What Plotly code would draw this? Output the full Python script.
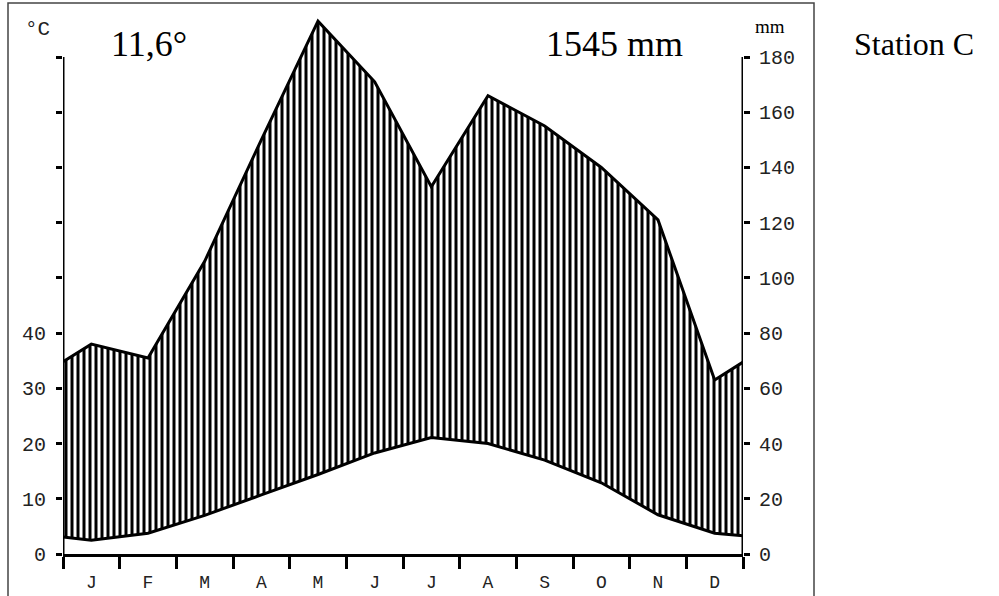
import plotly.graph_objects as go

# ---------------- data ----------------
months = ["J", "F", "M", "A", "M", "J", "J", "A", "S", "O", "N", "D"]
temp_c = [2.5, 3.75, 7.0, 10.7, 14.4, 18.3, 21.1, 20.0, 17.0, 12.9, 7.1, 3.75]
precip_mm = [76, 71, 106, 150, 193, 171, 133, 166, 155, 140, 121, 63]
temp_year_edges = [3.1, 3.3]        # values drawn at the Jan-start / Dec-end borders
precip_year_edges = [69.6, 69.5]
temp_ticks = [0, 10, 20, 30, 40, 50, 60, 70, 80, 90]
temp_tick_labels = ["0", "10", "20", "30", "40", "", "", "", "", ""]
precip_ticks = [0, 20, 40, 60, 80, 100, 120, 140, 160, 180]
precip_tick_labels = [str(v) for v in precip_ticks]
mean_temp_label = "11,6°"
annual_precip_label = "1545 mm"
station_label = "Station C"
MM_PER_DEG = 2  # Walter-Lieth convention: 10 °C = 20 mm

# ---------------- layout constants ----------------
W, H = 999, 596
ML, MR, MT, MB = 63, 256, 10, 42
PLOT_W = W - ML - MR
PLOT_H = H - MT - MB
Y180_PX = 57                       # pixel row of the 180 mm tick
MM_MAX = 180 * PLOT_H / (H - MB - Y180_PX)

def px_x(p):
    return (p - ML) / PLOT_W

def px_y(p):
    return (H - MB - p) / PLOT_H

x_pts = [0] + [i + 0.5 for i in range(12)] + [12]
temp_series = [temp_year_edges[0]] + temp_c + [temp_year_edges[1]]
precip_series = [precip_year_edges[0]] + precip_mm + [precip_year_edges[1]]
temp_as_mm = [t * MM_PER_DEG for t in temp_series]

mono = "Liberation Mono, Courier New, monospace"
serif = "Liberation Serif, Times New Roman, serif"

fig = go.Figure()
fig.add_trace(go.Scatter(x=x_pts, y=temp_as_mm, mode="lines",
                         line=dict(color="black", width=3),
                         yaxis="y", xaxis="x", showlegend=False, hoverinfo="skip"))
fig.add_trace(go.Scatter(x=x_pts, y=precip_series, mode="lines",
                         line=dict(color="black", width=3),
                         fill="tonexty", fillcolor="white",
                         fillpattern=dict(shape="|", size=6, solidity=0.5,
                                          fgcolor="black", bgcolor="white",
                                          fgopacity=1, fillmode="replace"),
                         yaxis="y", xaxis="x", showlegend=False, hoverinfo="skip"))
# helper traces so the overlay axes are drawn
fig.add_trace(go.Scatter(x=[None], y=[None], xaxis="x2", yaxis="y", showlegend=False, hoverinfo="skip"))
fig.add_trace(go.Scatter(x=[None], y=[None], xaxis="x", yaxis="y2", showlegend=False, hoverinfo="skip"))

tickfont = dict(family=mono, size=20, color="#222")

fig.update_layout(
    width=W, height=H,
    margin=dict(l=ML, r=MR, t=MT, b=MB, pad=0, autoexpand=False),
    paper_bgcolor="white", plot_bgcolor="white",
    xaxis=dict(range=[0, 12], tickvals=list(range(13)), ticktext=[""] * 13,
               ticks="outside", ticklen=12, tickwidth=3, tickcolor="black",
               showline=True, linewidth=3, linecolor="black", automargin=False,
               showgrid=False, zeroline=False, fixedrange=True),
    xaxis2=dict(range=[0, 12], overlaying="x", side="bottom", anchor="y",
                tickvals=[i + 0.5 for i in range(12)], ticktext=months,
                ticks="", showline=False, showgrid=False, zeroline=False, automargin=False,
                tickfont=dict(family=mono, size=18, color="#222"),
                ticklabelstandoff=15),
    yaxis=dict(range=[0, MM_MAX], side="right", anchor="x",
               tickvals=precip_ticks, ticktext=precip_tick_labels,
               ticks="outside", ticklen=6, tickwidth=3, tickcolor="black",
               showline=False, showgrid=False, zeroline=False, automargin=False,
               tickfont=tickfont, ticklabelstandoff=5),
    yaxis2=dict(range=[0, MM_MAX / MM_PER_DEG], overlaying="y", side="left", anchor="x",
                tickvals=temp_ticks, ticktext=temp_tick_labels,
                ticks="outside", ticklen=6, tickwidth=3, tickcolor="black",
                showline=False, showgrid=False, zeroline=False, automargin=False,
                tickfont=tickfont, ticklabelstandoff=6),
)

# axis lines (0-180 mm only)
for xv in (0, 12):
    fig.add_shape(type="line", xref="x", yref="y", x0=xv, x1=xv, y0=0, y1=precip_ticks[-1],
                  line=dict(color="black", width=3), layer="above")

# outer frame
fig.add_shape(type="rect", xref="paper", yref="paper",
              x0=px_x(8), x1=px_x(814), y0=px_y(605), y1=px_y(3),
              line=dict(color="#444", width=1.5), fillcolor="rgba(0,0,0,0)", layer="above")

ann = [
    dict(text="°C", x=px_x(37), y=px_y(30), font=dict(family=mono, size=21, color="#222")),
    dict(text=mean_temp_label, x=px_x(149), y=px_y(44), font=dict(family=serif, size=36, color="black")),
    dict(text=annual_precip_label, x=px_x(614), y=px_y(44), font=dict(family=serif, size=36, color="black")),
    dict(text="mm", x=px_x(770), y=px_y(26), font=dict(family=serif, size=19, color="black")),
]
for a in ann:
    fig.add_annotation(xref="paper", yref="paper", showarrow=False,
                       xanchor="center", yanchor="middle", **a)
fig.add_annotation(xref="paper", yref="paper", showarrow=False, xanchor="left", yanchor="middle",
                   x=px_x(852), y=px_y(44), text=station_label,
                   font=dict(family=serif, size=32, color="black"))

fig.write_html("out.html")
